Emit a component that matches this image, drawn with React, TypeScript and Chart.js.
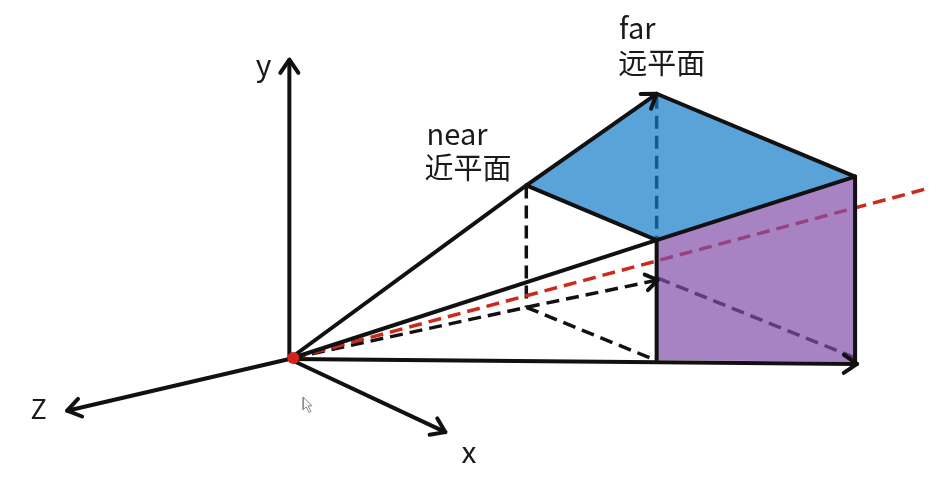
import { useEffect, useRef } from 'react';
import { Chart, registerables, type Plugin } from 'chart.js';

Chart.register(...registerables);

type Pt = [number, number];

const W = 946;
const H = 483;

// axes from the origin
const yAxis: Pt[] = [[287, 362], [287, 55]];
const zAxis: Pt[] = [[287, 362], [62, 415]];
const xAxis: Pt[] = [[287, 362], [445, 437]];
const baseLine: Pt[] = [[287, 362], [862, 367]];

// frustum solid edges
const rayTop: Pt[] = [[287, 362], [527, 184], [659, 90]];
const rayMid: Pt[] = [[287, 362], [659, 240], [860, 175]];
const nearTopEdge: Pt[] = [[527, 184], [659, 240]];
const farTopEdge: Pt[] = [[659, 90], [860, 175]];
const farLeftEdge: Pt[] = [[659, 240], [659, 363]];
const farRightEdge: Pt[] = [[860, 175], [860, 366]];

// hidden (dashed) edges
const nearDropEdge: Pt[] = [[527, 184], [527, 309]];
const lowRay: Pt[] = [[290, 361], [527, 309], [660, 281]];
const nearBottomEdge: Pt[] = [[527, 309], [655, 362]];
const farBottomEdge: Pt[] = [[660, 279], [858, 360]];
const farDropEdge: Pt[] = [[659, 92], [659, 240]];
const viewRay: Pt[] = [[291, 361], [934, 187]];

// planes
const topPlane: Pt[] = [[527, 184], [659, 90], [860, 175], [659, 240]];
const farPlane: Pt[] = [[659, 240], [860, 175], [860, 365], [659, 363]];

const eyePoint: Pt[] = [[291, 361]];
const cursorShape: Pt[] = [[301, 401], [301, 414], [304, 411], [307, 417], [309, 416], [306, 410], [310, 410]];

const labelTexts = ['y', 'Z', 'x', 'far', '远平面', 'near', '近平面'];
const labelAnchors: Pt[] = [[261, 60], [33, 413], [469, 457], [621, 23], [620, 58], [426, 131], [424, 166]];
const labelSizes = [30, 27, 30, 29, 29, 29, 29];
const labelAligns: CanvasTextAlign[] = ['center', 'center', 'center', 'left', 'left', 'left', 'left'];

const toXY = (pts: Pt[]) => pts.map(([x, y]) => ({ x, y }));
const closed = (pts: Pt[]) => toXY([...pts, pts[0]]);

const solid = (pts: Pt[], arrow = false) => ({
  data: toXY(pts),
  borderColor: '#111',
  borderWidth: 4,
  borderJoinStyle: 'round' as const,
  borderCapStyle: 'round' as const,
  pointRadius: 0,
  showLine: true,
  fill: false,
  order: 1,
  arrowHead: arrow ? 16 : 0,
});

const dashed = (pts: Pt[], color = '#111', arrow = false, order = 4) => ({
  data: toXY(pts),
  borderColor: color,
  borderWidth: 3.5,
  borderDash: [13, 7],
  pointRadius: 0,
  showLine: true,
  fill: false,
  order,
  arrowHead: arrow ? 14 : 0,
});

const plane = (pts: Pt[], color: string) => ({
  data: closed(pts),
  borderColor: 'transparent',
  borderWidth: 0,
  backgroundColor: color,
  pointRadius: 0,
  showLine: true,
  fill: 'shape',
  order: 2,
});

const arrowPlugin: Plugin = {
  id: 'arrowHeads',
  afterDatasetsDraw(chart) {
    const ctx = chart.ctx;
    chart.data.datasets.forEach((ds: any, i) => {
      if (!ds.arrowHead) return;
      const pts = chart.getDatasetMeta(i).data;
      if (pts.length < 2) return;
      const a = pts[pts.length - 2];
      const b = pts[pts.length - 1];
      const ang = Math.atan2(b.y - a.y, b.x - a.x);
      const len = ds.arrowHead;
      ctx.save();
      ctx.strokeStyle = '#111';
      ctx.lineWidth = 4;
      ctx.lineCap = 'round';
      ctx.lineJoin = 'round';
      ctx.beginPath();
      ctx.moveTo(b.x - len * Math.cos(ang - 0.6), b.y - len * Math.sin(ang - 0.6));
      ctx.lineTo(b.x, b.y);
      ctx.lineTo(b.x - len * Math.cos(ang + 0.6), b.y - len * Math.sin(ang + 0.6));
      ctx.stroke();
      ctx.restore();
    });
  },
};

const labelPlugin: Plugin = {
  id: 'diagramLabels',
  afterDraw(chart) {
    const { ctx, scales } = chart;
    ctx.save();
    ctx.fillStyle = '#1a1a1a';
    ctx.textBaseline = 'middle';
    labelTexts.forEach((t, i) => {
      ctx.font = `${labelSizes[i]}px "Noto Sans CJK SC", "Noto Sans", sans-serif`;
      ctx.textAlign = labelAligns[i];
      ctx.fillText(t, scales.x.getPixelForValue(labelAnchors[i][0]), scales.y.getPixelForValue(labelAnchors[i][1]));
    });
    ctx.restore();
  },
};

export default function App() {
  const canvasRef = useRef<HTMLCanvasElement>(null);

  useEffect(() => {
    if (!canvasRef.current) return;
    const chart = new Chart(canvasRef.current, {
      type: 'scatter',
      data: {
        datasets: [
          // eye point on top
          {
            data: toXY(eyePoint),
            pointRadius: 6,
            pointBackgroundColor: '#d4231a',
            pointBorderWidth: 0,
            showLine: false,
            order: 0,
          } as any,
          solid(yAxis, true),
          solid(zAxis, true),
          solid(xAxis, true),
          solid(baseLine, true),
          solid(rayTop, true),
          solid(rayMid),
          solid(nearTopEdge),
          solid(farTopEdge),
          solid(farLeftEdge),
          solid(farRightEdge),
          plane(topPlane, 'rgba(19,124,199,0.7)'),
          plane(farPlane, 'rgba(129,79,171,0.7)'),
          dashed(viewRay, '#cc2a1e', false, 3),
          dashed(nearDropEdge),
          dashed(lowRay, '#111', true),
          dashed(nearBottomEdge),
          dashed(farBottomEdge),
          dashed(farDropEdge),
          {
            data: closed(cursorShape),
            borderColor: '#8a8a8a',
            borderWidth: 1,
            backgroundColor: '#fafafa',
            pointRadius: 0,
            showLine: true,
            fill: 'shape',
            order: 1,
          } as any,
        ] as any,
      },
      options: {
        animation: false,
        responsive: false,
        layout: { padding: 0 },
        plugins: { legend: { display: false }, tooltip: { enabled: false } },
        elements: { line: { tension: 0 } },
        scales: {
          x: { type: 'linear', min: 0, max: W, display: false },
          y: { type: 'linear', min: 0, max: H, reverse: true, display: false },
        },
      },
      plugins: [arrowPlugin, labelPlugin],
    });
    return () => { chart.destroy(); };
  }, []);

  return (
    <div style={{ position: 'absolute', left: 0, top: 0, width: W, height: H, background: '#fff' }}>
      <canvas ref={canvasRef} width={W} height={H} />
    </div>
  );
}
